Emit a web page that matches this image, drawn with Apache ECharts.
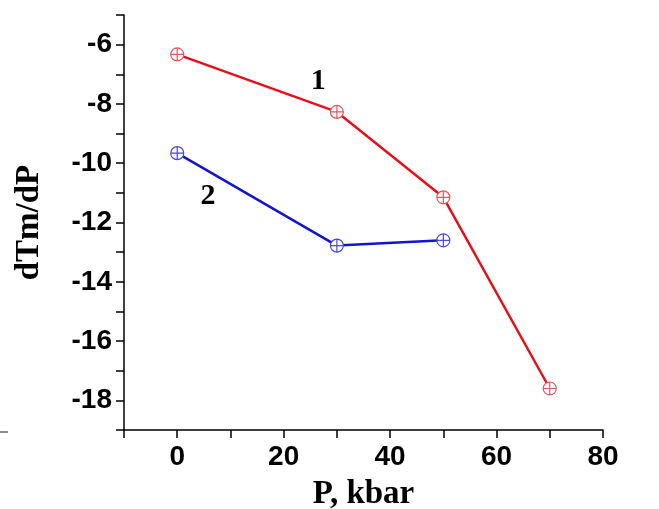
<!DOCTYPE html>
<html>
<head>
<meta charset="utf-8">
<script src="https://cdn.jsdelivr.net/npm/echarts@6/dist/echarts.min.js"></script>
<style>
  html, body { margin: 0; padding: 0; background: #fff; }
  #main { width: 659px; height: 509px; }
</style>
</head>
<body>
<div id="main"></div>
<script>
// curve 1 (red) and curve 2 (blue): pressure in kbar vs dTm/dP
var pressure1 = [0, 30, 50, 70];
var slope1 = [-6.33, -8.27, -11.15, -17.6];
var pressure2 = [0, 30, 50];
var slope2 = [-9.66, -12.78, -12.6];

// where the curve numbers sit, in data units
var curveNames = ['1', '2'];
var curveNamePos = [[26.5, -7.25], [5.8, -11.1]];

var crossCircle = 'path://M0,-10 A10,10 0 1,1 0,10 A10,10 0 1,1 0,-10 Z M-10,0 L10,0 M0,-10 L0,10';

function toPairs(xs, ys) {
  var out = [];
  for (var i = 0; i < xs.length; i++) {
    out.push([xs[i], ys[i]]);
  }
  return out;
}

var chart = echarts.init(document.getElementById('main'), null, { renderer: 'canvas' });

var tickFont = {
  fontFamily: 'Liberation Sans',
  fontWeight: 'bold',
  fontSize: 28,
  color: '#000'
};

var option = {
  backgroundColor: '#ffffff',
  animation: false,
  grid: { left: 124, right: 56, top: 15, bottom: 79, containLabel: false, outerBoundsMode: 'none' },
  xAxis: {
    type: 'value',
    min: -10,
    max: 80,
    interval: 10,
    name: 'P, kbar',
    nameLocation: 'middle',
    nameGap: 48,
    nameTextStyle: { fontFamily: 'Liberation Serif', fontWeight: 'bold', fontSize: 33, color: '#000' },
    axisLine: { onZero: false, lineStyle: { color: '#000', width: 1.5 } },
    axisTick: { show: true, length: 8, lineStyle: { color: '#000', width: 1.5 } },
    splitLine: { show: false },
    axisLabel: Object.assign({
      margin: 13,
      formatter: function (v) { return (v % 20 === 0 && v >= 0) ? String(v) : ''; }
    }, tickFont)
  },
  yAxis: {
    type: 'value',
    min: -19,
    max: -5,
    interval: 1,
    name: 'dTm/dP',
    nameLocation: 'middle',
    nameGap: 78,
    nameRotate: 90,
    nameTextStyle: { fontFamily: 'Liberation Serif', fontWeight: 'bold', fontSize: 33, color: '#000' },
    axisLine: { onZero: false, lineStyle: { color: '#000', width: 1.5 } },
    axisTick: { show: true, length: 8, lineStyle: { color: '#000', width: 1.5 } },
    splitLine: { show: false },
    axisLabel: Object.assign({
      margin: 12,
      formatter: function (v) { return (v % 2 === 0 && v > -19 && v < -5) ? String(v) : ''; }
    }, tickFont)
  },
  series: [
    {
      name: '1',
      type: 'line',
      data: toPairs(pressure1, slope1),
      symbol: crossCircle,
      symbolSize: 13,
      showAllSymbol: true,
      lineStyle: { color: '#e4101c', width: 2.5 },
      itemStyle: { color: '#ffffff', borderColor: '#de5a60', borderWidth: 1.2 },
      z: 3
    },
    {
      name: '2',
      type: 'line',
      data: toPairs(pressure2, slope2),
      symbol: crossCircle,
      symbolSize: 13,
      showAllSymbol: true,
      lineStyle: { color: '#1414cc', width: 2.5 },
      itemStyle: { color: '#ffffff', borderColor: '#4a4ad8', borderWidth: 1.2 },
      z: 3
    }
  ]
};

chart.setOption(option);

// curve numbers placed through the grid's own scale
var labels = [];
for (var i = 0; i < curveNames.length; i++) {
  var p = chart.convertToPixel({ gridIndex: 0 }, curveNamePos[i]);
  labels.push({
    type: 'text',
    x: p[0],
    y: p[1],
    style: {
      text: curveNames[i],
      fontFamily: 'Liberation Serif',
      fontWeight: 'bold',
      fontSize: 30,
      fill: '#000',
      align: 'center',
      verticalAlign: 'middle'
    }
  });
}
// small stray mark at the left edge of the scan
labels.push({
  type: 'line',
  shape: { x1: 0, y1: 432, x2: 8, y2: 432 },
  style: { stroke: '#666', lineWidth: 1.5 }
});
chart.setOption({ graphic: labels });
</script>
</body>
</html>
